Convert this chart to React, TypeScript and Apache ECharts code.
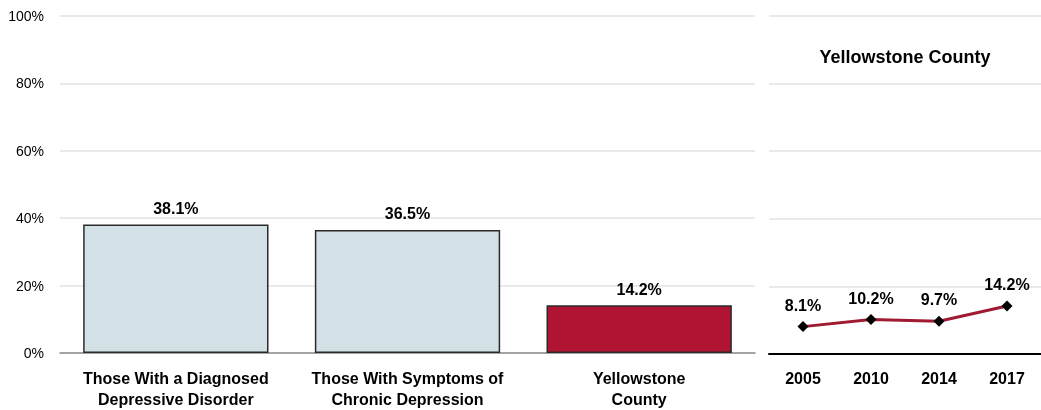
import React, { useEffect, useRef } from "react";
import * as echarts from "echarts";

const barCategories = [
  "Those With a Diagnosed\nDepressive Disorder",
  "Those With Symptoms of\nChronic Depression",
  "Yellowstone\nCounty",
];
const barValues = [38.1, 36.5, 14.2];
const barColors = ["#D3E0E5", "#D3E0E5", "#B01432"];

const trendYears = ["2005", "2010", "2014", "2017"];
const trendValues = [8.1, 10.2, 9.7, 14.2];

const yTicks = [0, 20, 40, 60, 80, 100];
const trendTitle = "Yellowstone County";

const FONT = "'Liberation Sans Narrow', 'Arial Narrow', 'Liberation Sans', Arial, sans-serif";

export default function App() {
  const ref = useRef<HTMLDivElement>(null);
  useEffect(() => {
    if (!ref.current) return;
    const chart = echarts.init(ref.current, null, { renderer: "svg" });
    const gridTop = 16;
    const gridBottom = 56;
    chart.setOption({
      animation: false,
      textStyle: { fontFamily: FONT },
      grid: [
        { left: 60, right: 286, top: gridTop, bottom: gridBottom },
        { left: 769, right: 0, top: gridTop, bottom: gridBottom },
      ],
      graphic: [
        {
          type: "text",
          x: 905,
          y: 57,
          style: {
            text: trendTitle,
            font: `bold 18px ${FONT}`,
            fill: "#000",
            textAlign: "center",
            textVerticalAlign: "middle",
          },
        },
      ],
      xAxis: [
        {
          type: "category",
          gridIndex: 0,
          data: barCategories,
          axisTick: { show: false },
          axisLine: { lineStyle: { color: "#8c8c8c", width: 1.5 } },
          axisLabel: {
            color: "#000",
            fontWeight: "bold",
            fontSize: 16,
            lineHeight: 21,
            margin: 15,
            fontFamily: FONT,
            interval: 0,
          },
        },
        {
          type: "category",
          gridIndex: 1,
          data: trendYears,
          axisTick: { show: false },
          axisLine: { lineStyle: { color: "#000", width: 2 } },
          axisLabel: {
            color: "#000",
            fontWeight: "bold",
            fontSize: 16,
            margin: 16,
            fontFamily: FONT,
          },
        },
      ],
      yAxis: [
        {
          type: "value",
          gridIndex: 0,
          min: yTicks[0],
          max: yTicks[yTicks.length - 1],
          interval: 20,
          axisLine: { show: false },
          axisTick: { show: false },
          axisLabel: {
            formatter: "{value}%",
            color: "#000",
            fontSize: 14,
            margin: 16,
            fontFamily: FONT,
          },
          splitLine: { lineStyle: { color: "#e3e3e3", width: 1.5 } },
        },
        {
          type: "value",
          gridIndex: 1,
          min: yTicks[0],
          max: yTicks[yTicks.length - 1],
          interval: 20,
          axisLine: { show: false },
          axisTick: { show: false },
          axisLabel: { show: false },
          splitLine: { lineStyle: { color: "#e3e3e3", width: 1.5 } },
        },
      ],
      series: [
        {
          type: "bar",
          xAxisIndex: 0,
          yAxisIndex: 0,
          barWidth: "80%",
          data: barValues.map((v, i) => ({
            value: v,
            itemStyle: { color: barColors[i], borderColor: "#2b2b2b", borderWidth: 1.5 },
          })),
          label: {
            show: true,
            position: "top",
            distance: 8,
            formatter: (p: any) => `${p.value.toFixed(1)}%`,
            color: "#000",
            fontWeight: "bold",
            fontSize: 16,
            fontFamily: FONT,
          },
        },
        {
          type: "line",
          xAxisIndex: 1,
          yAxisIndex: 1,
          data: trendValues,
          lineStyle: { color: "#A01A31", width: 3 },
          itemStyle: { color: "#000" },
          symbol: "diamond",
          symbolSize: 11,
          label: {
            show: true,
            position: "top",
            distance: 8,
            formatter: (p: any) => `${p.value.toFixed(1)}%`,
            color: "#000",
            fontWeight: "bold",
            fontSize: 16,
            fontFamily: FONT,
          },
        },
      ],
    });
    return () => chart.dispose();
  }, []);
  return (
    <div
      ref={ref}
      style={{ position: "fixed", left: 0, top: 0, width: 1041, height: 410 }}
    />
  );
}
